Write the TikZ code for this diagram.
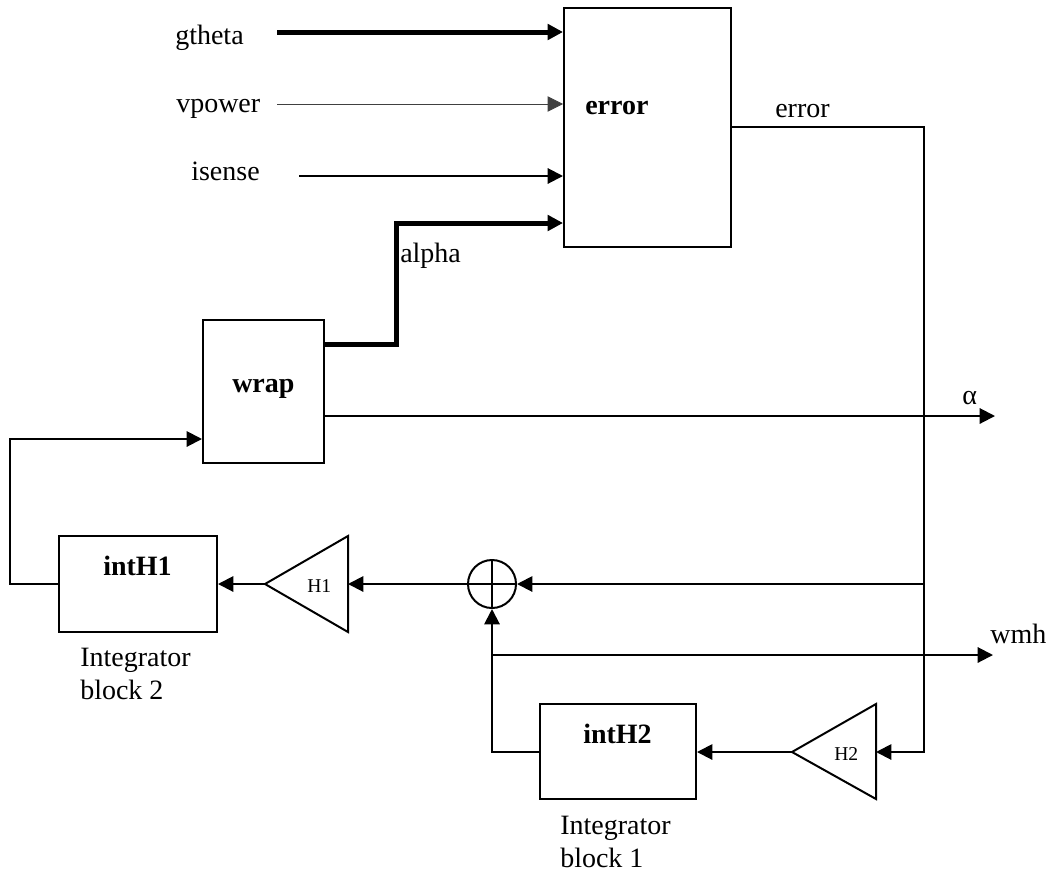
\documentclass[tikz,border=0pt]{standalone}
\usepackage{fontspec}
\setmainfont{Liberation Serif}
\usetikzlibrary{arrows.meta,positioning,fit}

\begin{document}
\begin{tikzpicture}[
  x=0.75pt, y=-0.75pt,
  >={Triangle[length=11.5pt,width=11.5pt]},
  font=\fontsize{21}{24.75}\selectfont,
  block/.style={draw, line width=1.5pt, inner sep=0pt},
  blocklabel/.style={anchor=base west, inner sep=0pt, font=\fontsize{21}{24.75}\selectfont\bfseries},
  gainlabel/.style={anchor=base west, inner sep=0pt, font=\fontsize{14.7}{17}\selectfont},
  sig/.style={anchor=base west, inner sep=0pt},
  note/.style={anchor=north west, inner sep=0pt, align=left},
  wire/.style={line width=1.5pt},
  arrow/.style={->, line width=1.5pt},
  bus/.style={->, line width=3.75pt},
  faint/.style={->, line width=0.6pt, draw=black!75}
]

\useasboundingbox (0,0) rectangle (1055,878);

\node[block, fit={(564,8) (731,247)}] (err) {};
\node[blocklabel] (errtxt) at (585,114) {error};

\node[block, fit={(203,320) (324,463)}] (wrap) {};
\node[blocklabel] (wraptxt) at (232,392) {wrap};

\node[block, fit={(59,536) (217,632)}] (int1) {};
\node[blocklabel] (int1txt) at (103,575) {intH1};

\node[block, fit={(540,704) (696,799)}] (int2) {};
\node[blocklabel] (int2txt) at (583,743) {intH2};

\node[draw, circle, line width=1.5pt, minimum size=36pt, inner sep=0pt] (sum) at (492,584) {};
\draw[wire] (sum.north) -- (sum.south) (sum.west) -- (sum.east);

\coordinate (h1tip) at (265,584);
\coordinate (h1in) at (348,584);
\draw[wire] (348,536) -- (h1tip) -- (348,632) -- cycle;
\node[gainlabel] (h1txt) at (307,592) {H1};

\coordinate (h2tip) at (792,752);
\coordinate (h2in) at (876,752);
\draw[wire] (876,704) -- (h2tip) -- (876,799) -- cycle;
\node[gainlabel] (h2txt) at (834,760) {H2};

\node[sig] (gtheta) at (175,44) {gtheta};
\node[sig] (vpower) at (176,112) {vpower};
\node[sig] (isense) at (191,180) {isense};
\node[sig] (alphatxt) at (400,262) {alpha};
\node[sig] (errout) at (775,117) {error};
\node[sig] (alphaout) at (962,404) {α};
\node[sig] (wmh) at (990,643) {wmh};
\node[note] (blk2) at (80,648) {Integrator\\block 2};
\node[note] (blk1) at (560,816) {Integrator\\block 1};

\coordinate (gin) at (277,32);
\coordinate (vin) at (277,104);
\coordinate (iin) at (299,176);
\coordinate (ain) at (396,223);
\coordinate (etap) at (924,127);
\coordinate (aend) at (995,416);
\coordinate (wend) at (993,655);
\coordinate (fb) at (10,439);

\draw[bus] (gin) -- (gin -| err.west);
\draw[faint] (vin) -- (vin -| err.west);
\draw[arrow] (iin) -- (iin -| err.west);
\draw[bus] (wrap.east |- 0,344) -- (396,344) -- (ain) -- (ain -| err.west);
\draw[arrow] (aend -| wrap.east) -- (aend);

\draw[arrow] (err.east |- etap) -- (etap) -- (etap |- h2in) -- (h2in);
\draw[arrow] (etap |- sum) -- (sum.east);
\draw[arrow] (sum.west) -- (h1in);
\draw[arrow] (h1tip) -- (h1tip -| int1.east);
\draw[arrow] (int1.west |- h1tip) -- (fb |- h1tip) -- (fb) -- (fb -| wrap.west);

\draw[arrow] (h2tip) -- (h2tip -| int2.east);
\draw[arrow] (int2.west |- h2tip) -- (sum |- h2tip) -- (sum.south);
\draw[arrow] (sum |- wend) -- (wend);

\end{tikzpicture}
\end{document}
